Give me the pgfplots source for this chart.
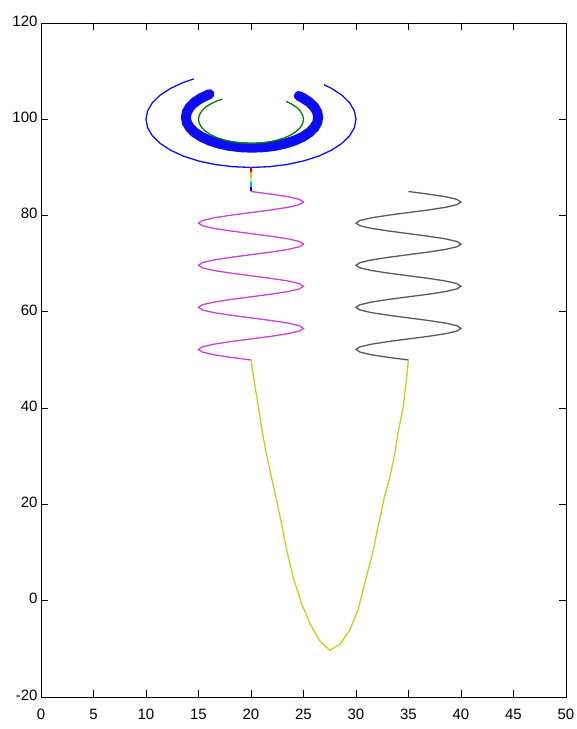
\documentclass[border=0pt]{standalone}
\usepackage{pgfplots}
\pgfplotsset{compat=1.18}
\usepackage{pgfplotstable}
\usepackage{fontspec}
\setmainfont{Liberation Sans}

\definecolor{cblue}{rgb}{0.05,0.05,0.95}
\definecolor{cgreen}{rgb}{0.0,0.5,0.0}
\definecolor{cmag}{rgb}{0.8,0.25,0.85}
\definecolor{cgray}{rgb}{0.35,0.35,0.35}
\definecolor{cyel}{rgb}{0.8,0.8,0.1}

\pgfplotstableread{
y xm xg
85.00 20 35
84.45 21.91 36.91
83.91 23.54 38.54
83.36 24.62 39.62
82.81 25 40
82.27 24.62 39.62
81.72 23.54 38.54
81.17 21.91 36.91
80.63 20 35
80.08 18.09 33.09
79.53 16.46 31.46
78.98 15.38 30.38
78.44 15 30
77.89 15.38 30.38
77.34 16.46 31.46
76.80 18.09 33.09
76.25 20 35
75.70 21.91 36.91
75.16 23.54 38.54
74.61 24.62 39.62
74.06 25 40
73.52 24.62 39.62
72.97 23.54 38.54
72.42 21.91 36.91
71.88 20 35
71.33 18.09 33.09
70.78 16.46 31.46
70.23 15.38 30.38
69.69 15 30
69.14 15.38 30.38
68.59 16.46 31.46
68.05 18.09 33.09
67.50 20 35
66.95 21.91 36.91
66.41 23.54 38.54
65.86 24.62 39.62
65.31 25 40
64.77 24.62 39.62
64.22 23.54 38.54
63.67 21.91 36.91
63.13 20 35
62.58 18.09 33.09
62.03 16.46 31.46
61.48 15.38 30.38
60.94 15 30
60.39 15.38 30.38
59.84 16.46 31.46
59.30 18.09 33.09
58.75 20 35
58.20 21.91 36.91
57.66 23.54 38.54
57.11 24.62 39.62
56.56 25 40
56.02 24.62 39.62
55.47 23.54 38.54
54.92 21.91 36.91
54.38 20 35
53.83 18.09 33.09
53.28 16.46 31.46
52.73 15.38 30.38
52.19 15 30
51.64 15.38 30.38
51.09 16.46 31.46
50.55 18.09 33.09
50.00 20 35
}\springs

\pgfplotstableread{
x y
20.00 50.0
20.38 44.5
20.70 40.3
21.00 36.1
21.33 32.0
21.80 27.1
22.30 22.3
22.90 16.1
23.40 10.5
24.00 5.0
24.80 -0.5
25.60 -4.7
26.60 -8.5
27.50 -10.3
28.50 -9.0
29.40 -6.1
30.20 -1.9
31.00 5.0
31.65 10.5
32.10 15.4
32.76 22.0
33.24 25.75
33.70 30.6
34.00 34.8
34.50 40.3
34.76 45.2
35.00 50.0
}\yellowcurve

\pgfplotstableread{
x y
14.554 108.387
13.572 107.660
12.340 106.428
11.340 105.000
10.603 103.420
10.152 101.736
10.000 100.000
10.152 98.264
10.603 96.580
11.340 95.000
12.340 93.572
13.572 92.340
15.000 91.340
16.580 90.603
18.264 90.152
20.000 90.000
21.736 90.152
23.420 90.603
25.000 91.340
26.428 92.340
27.660 93.572
28.660 95.000
29.397 96.580
29.848 98.264
30.000 100.000
29.848 101.736
29.397 103.420
28.660 105.000
27.660 106.428
26.947 107.193
}\outerarc

\pgfplotstableread{
x y
16.050 105.226
15.274 104.450
14.644 103.550
14.180 102.555
13.896 101.494
13.800 100.400
13.896 99.306
14.180 98.245
14.644 97.250
15.274 96.350
16.050 95.574
16.950 94.944
17.945 94.480
19.006 94.196
20.100 94.100
21.194 94.196
22.255 94.480
23.250 94.944
24.150 95.574
24.926 96.350
25.556 97.250
26.020 98.245
26.304 99.306
26.400 100.400
26.304 101.494
26.020 102.555
25.556 103.550
24.926 104.450
24.555 104.855
}\thickarc

\pgfplotstableread{
x y
17.277 104.194
16.786 103.830
16.170 103.214
15.670 102.500
15.302 101.710
15.076 100.868
15.000 100.000
15.076 99.132
15.302 98.290
15.670 97.500
16.170 96.786
16.786 96.170
17.500 95.670
18.290 95.302
19.132 95.076
20.000 95.000
20.868 95.076
21.710 95.302
22.500 95.670
23.214 96.170
23.830 96.786
24.330 97.500
24.698 98.290
24.924 99.132
25.000 100.000
24.924 100.868
24.698 101.710
24.330 102.500
23.830 103.214
23.346 103.716
}\greenarc

\begin{document}
\begin{tikzpicture}
\begin{axis}[
  name=ax,
  scale only axis,
  width=525bp, height=674bp,
  xmin=0, xmax=50, ymin=-20, ymax=120,
  xtick={0,5,...,50},
  ytick={-20,0,20,40,60,80,100,120},
  tick align=inside,
  major tick length=7bp,
  axis line style={black, line width=0.9bp},
  tick style={black, line width=0.9bp},
  tick label style={font=\fontsize{15bp}{18bp}\selectfont},
  /pgf/number format/assume math mode=true,
  xticklabel style={yshift=-9bp},
  yticklabel style={yshift=2bp},
  clip=false,
]
\addplot[cblue, line width=1.3bp] table[x=x, y=y] {\outerarc};
\addplot[cblue, line width=10bp, line cap=round] table[x=x, y=y] {\thickarc};
\addplot[cgreen, line width=1.3bp] table[x=x, y=y] {\greenarc};
\addplot[mesh, colormap/jet, point meta=y, line width=1.3bp] coordinates {(20,90) (20,89) (20,88) (20,87) (20,86) (20,85)};
\addplot[cmag, line width=1.3bp] table[x=xm, y=y] {\springs};
\addplot[cgray, line width=1.3bp] table[x=xg, y=y] {\springs};
\addplot[cyel, line width=1.3bp] table[x=x, y=y] {\yellowcurve};
\end{axis}
\pgfresetboundingbox
\path ([xshift=-41bp,yshift=-32bp]ax.south west) rectangle ([xshift=11bp,yshift=23bp]ax.north east);
\end{tikzpicture}
\end{document}
